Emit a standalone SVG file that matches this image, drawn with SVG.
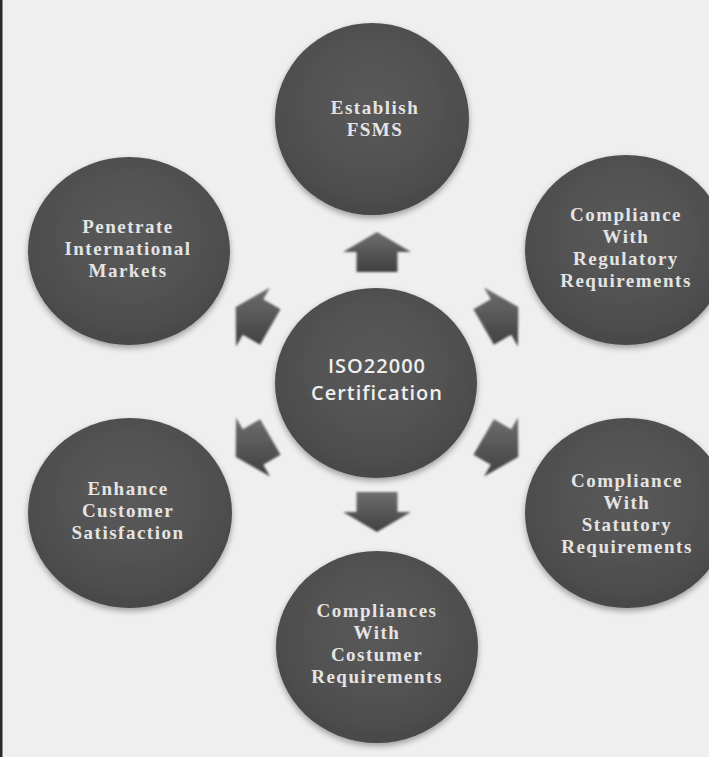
<svg xmlns="http://www.w3.org/2000/svg" width="709" height="757" viewBox="0 0 709 757">
<defs>
<radialGradient id="cg" cx="0.5" cy="0.42" r="0.6">
<stop offset="0" stop-color="#5a5a5a"/>
<stop offset="0.8" stop-color="#4e4e4e"/>
<stop offset="1" stop-color="#464646"/>
</radialGradient>
<linearGradient id="ag" x1="0" y1="0" x2="0" y2="1">
<stop offset="0" stop-color="#6e6e6e"/>
<stop offset="1" stop-color="#404040"/>
</linearGradient>
<filter id="sh" x="-10%" y="-10%" width="120%" height="125%">
<feGaussianBlur in="SourceAlpha" stdDeviation="3"/>
<feOffset dx="0" dy="3" result="b"/>
<feComponentTransfer><feFuncA type="linear" slope="0.35"/></feComponentTransfer>
<feMerge><feMergeNode/><feMergeNode in="SourceGraphic"/></feMerge>
</filter>
<filter id="soft"><feGaussianBlur stdDeviation="0.8"/></filter>
</defs>
<style>
.c{fill:url(#cg);filter:url(#sh)}
.a{fill:url(#ag);filter:url(#soft)}
.t{font-family:"Liberation Serif","Times New Roman",serif;font-weight:bold;font-size:19px;letter-spacing:1.5px;fill:#e4e4e4;text-anchor:middle}
.m{font-family:"Open Sans","Liberation Sans",sans-serif;font-weight:600;font-size:20px;letter-spacing:1px;fill:#eeeeee;text-anchor:middle}
</style>
<rect x="0" y="0" width="709" height="757" fill="#efefef"/>
<rect x="0" y="0" width="2.5" height="757" fill="#2a2a2a"/>
<g id="connectors">
<polygon class="a" points="377,232 411,252 397.5,252 397.5,272 356.5,272 356.5,252 343,252"/>
<polygon class="a" points="377,532 343,512 356.5,512 356.5,492 397.5,492 397.5,512 411,512"/>
<polygon class="a" points="235.7,307 270,287.6 263.3,299.3 280.6,309.3 260.1,344.8 242.8,334.8 236,346.4"/>
<polygon class="a" points="518.3,307 484,287.6 490.7,299.3 473.4,309.3 493.9,344.8 511.2,334.8 518,346.4"/>
<polygon class="a" points="235.7,457 270,476.4 263.3,464.7 280.6,454.7 260.1,419.2 242.8,429.2 236,417.6"/>
<polygon class="a" points="518.3,457 484,476.4 490.7,464.7 473.4,454.7 493.9,419.2 511.2,429.2 518,417.6"/>
</g>
<g id="center">
<ellipse class="c" cx="376" cy="383" rx="101" ry="95"/>
<text class="m" x="377" y="373">ISO22000</text>
<text class="m" x="377" y="400">Certification</text>
</g>
<g id="top">
<ellipse class="c" cx="372" cy="119" rx="97" ry="96"/>
<text class="t" x="375" y="114">Establish</text>
<text class="t" x="375" y="136">FSMS</text>
</g>
<g id="topright">
<ellipse class="c" cx="626" cy="250" rx="101" ry="95"/>
<text class="t" x="626" y="221">Compliance</text>
<text class="t" x="626" y="243">With</text>
<text class="t" x="626" y="265">Regulatory</text>
<text class="t" x="626" y="287">Requirements</text>
</g>
<g id="topleft">
<ellipse class="c" cx="129" cy="251" rx="101" ry="94"/>
<text class="t" x="128" y="233">Penetrate</text>
<text class="t" x="128" y="255">International</text>
<text class="t" x="128" y="277">Markets</text>
</g>
<g id="bottomleft">
<ellipse class="c" cx="130" cy="513" rx="102" ry="95"/>
<text class="t" x="128" y="495">Enhance</text>
<text class="t" x="128" y="517">Customer</text>
<text class="t" x="128" y="539">Satisfaction</text>
</g>
<g id="bottomright">
<ellipse class="c" cx="627" cy="513" rx="102" ry="95"/>
<text class="t" x="627" y="487">Compliance</text>
<text class="t" x="627" y="509">With</text>
<text class="t" x="627" y="531">Statutory</text>
<text class="t" x="627" y="553">Requirements</text>
</g>
<g id="bottom">
<ellipse class="c" cx="377" cy="647" rx="101" ry="96"/>
<text class="t" x="377" y="617">Compliances</text>
<text class="t" x="377" y="639">With</text>
<text class="t" x="377" y="661">Costumer</text>
<text class="t" x="377" y="683">Requirements</text>
</g>
</svg>
